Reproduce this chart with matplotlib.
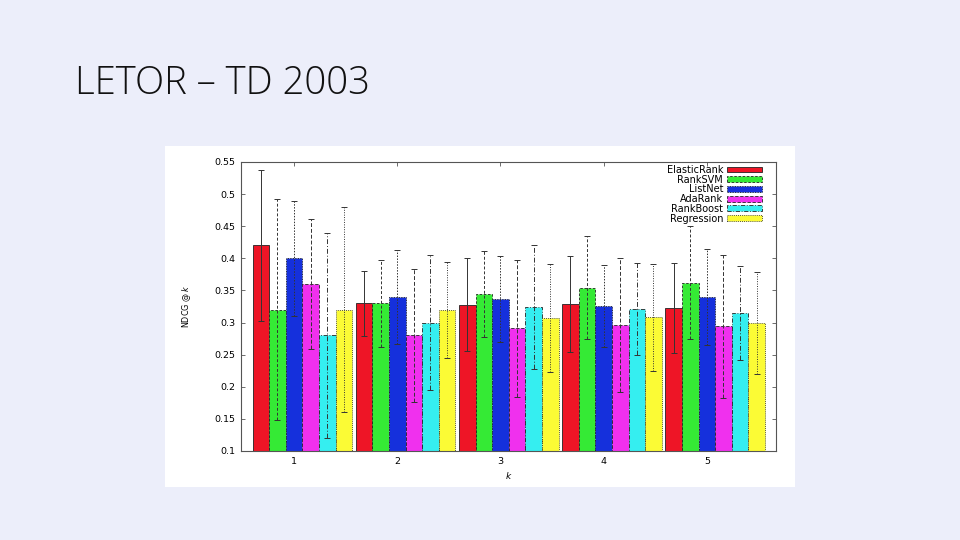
import numpy as np
import matplotlib
matplotlib.use('Agg')
import matplotlib.pyplot as plt
from matplotlib.patches import Rectangle

# ---------------- data ----------------
k_values = [1, 2, 3, 4, 5]
methods = ['ElasticRank', 'RankSVM', 'ListNet', 'AdaRank', 'RankBoost', 'Regression']

elasticrank = [0.420, 0.330, 0.328, 0.329, 0.323]
ranksvm     = [0.320, 0.330, 0.345, 0.354, 0.362]
listnet     = [0.400, 0.340, 0.336, 0.326, 0.340]
adarank     = [0.360, 0.280, 0.291, 0.296, 0.294]
rankboost   = [0.280, 0.300, 0.324, 0.321, 0.315]
regression  = [0.320, 0.320, 0.307, 0.308, 0.299]

elasticrank_err = [0.117, 0.051, 0.072, 0.075, 0.070]
ranksvm_err     = [0.172, 0.068, 0.067, 0.080, 0.088]
listnet_err     = [0.090, 0.073, 0.067, 0.064, 0.075]
adarank_err     = [0.101, 0.103, 0.107, 0.104, 0.111]
rankboost_err   = [0.160, 0.105, 0.097, 0.072, 0.073]
regression_err  = [0.160, 0.075, 0.084, 0.083, 0.079]

yticks = [0.1, 0.15, 0.2, 0.25, 0.3, 0.35, 0.4, 0.45, 0.5, 0.55]
title = 'LETOR – TD 2003'

# ---------------- style ----------------
values = [elasticrank, ranksvm, listnet, adarank, rankboost, regression]
errors = [elasticrank_err, ranksvm_err, listnet_err, adarank_err, rankboost_err, regression_err]
colors = ['#ee1526', '#35ea35', '#1530dc', '#f030ee', '#35eef0', '#fbfb35']
styles = ['-', (0, (3, 2)), (0, (1.5, 1.5)), (0, (4, 2)), (0, (5, 2, 1, 2)), (0, (1, 1.5))]

fig = plt.figure(figsize=(9.6, 5.4), dpi=100)
fig.patch.set_facecolor('#eceefa')

# white picture box
box = Rectangle((165 / 960, 1 - 487 / 540), 630 / 960, 341 / 540,
                transform=fig.transFigure, facecolor='white',
                edgecolor='none', zorder=-5)
fig.patches.append(box)

fig.text(75 / 960, 1 - 94 / 540, title, fontsize=27.5, family='Open Sans', weight='light',
         color='#111111', ha='left', va='baseline')

ax = fig.add_axes([241 / 960, 1 - 451 / 540, 535 / 960, 289 / 540])
ax.set_zorder(2)
ax.set_facecolor('white')

w = 0.161
x = np.array(k_values, dtype=float)
handles = []
for j, (vals, errs, c, ls, name) in enumerate(zip(values, errors, colors, styles, methods)):
    pos = x + (j - 2) * w
    bars = ax.bar(pos, np.array(vals) - 0.1, bottom=0.1, width=w, color=c,
                  edgecolor='#222222', linewidth=0.6, linestyle=ls, label=name, zorder=2)
    eb = ax.errorbar(pos, vals, yerr=errs, fmt='none', ecolor='#333333',
                     elinewidth=0.7, capsize=2.2, capthick=0.7, zorder=3)
    for lc in eb[2]:
        lc.set_linestyle(ls)
    handles.append(bars)

ax.set_ylim(0.1, 0.55)
ax.set_xlim(0.486, 5.67)
ax.set_yticks(yticks)
ax.set_yticklabels([f'{t:g}' for t in yticks])
ax.set_xticks(k_values)
ax.set_xticklabels([str(k) for k in k_values])
ax.tick_params(direction='in', length=3, width=0.6, color='#555555',
               labelsize=6.8, top=True, right=True, pad=4)
for s in ax.spines.values():
    s.set_color('#555555')
    s.set_linewidth(0.8)

ax.set_ylabel('NDCG @ $k$', fontsize=5.8, labelpad=15)
ax.set_xlabel('$k$', fontsize=6.5, labelpad=3)

leg = ax.legend(handles=handles, labels=methods, loc='upper right',
                bbox_to_anchor=(1 - 14 / 535, 1 - 3 / 289), frameon=False,
                markerfirst=False, fontsize=7, handlelength=3.6, handleheight=0.55,
                handletextpad=0.4, labelspacing=-0.03, borderpad=0, borderaxespad=0)

fig.savefig('out.png', dpi=100, facecolor=fig.get_facecolor())
